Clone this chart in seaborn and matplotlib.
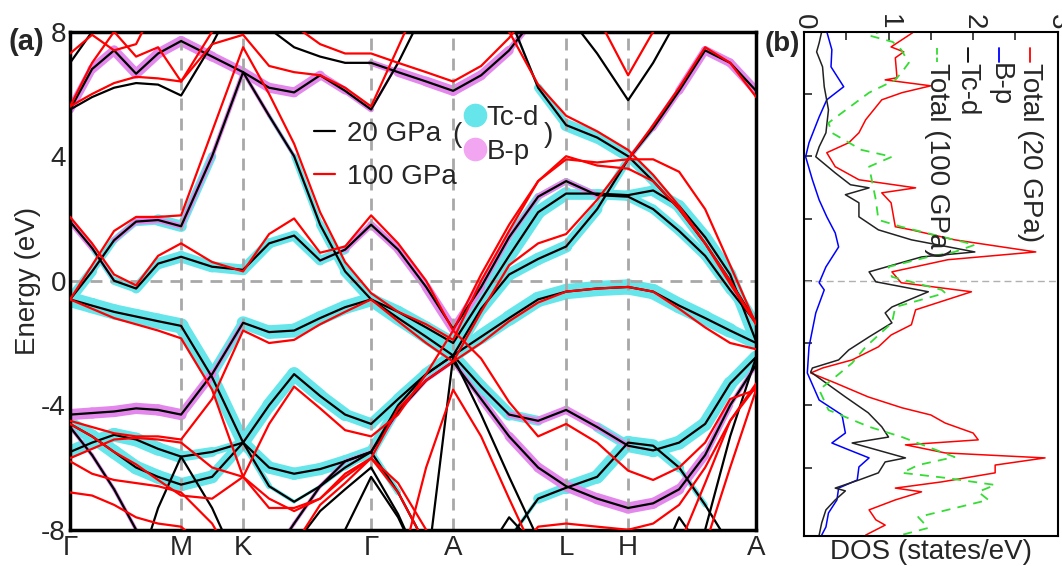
import numpy as np
import pandas as pd
import matplotlib
matplotlib.use("Agg")
import matplotlib.pyplot as plt
from matplotlib.collections import LineCollection
from matplotlib.lines import Line2D
import seaborn as sns

sns.set_style("white")
plt.rcParams["font.family"] = ["Liberation Sans", "DejaVu Sans"]

# --- k path (high symmetry points and the sampled k values) ---
sym_labels = ["Γ", "M", "K", "Γ", "A", "L", "H", "A"]
sym_pos = [0.0, 1.11, 1.73, 3.01, 3.83, 4.96, 5.58, 6.86]
kpath = [0.0, 0.22, 0.44, 0.66, 0.88, 1.11, 1.42, 1.73, 1.99, 2.24, 2.50, 2.75, 3.01,
         3.28, 3.56, 3.83, 4.11, 4.39, 4.68, 4.96, 5.27, 5.58, 5.83, 6.09, 6.35, 6.60, 6.86]

# --- bands at 20 GPa (eV) ---
b20_1 = [7.0, 8.0, 9.5, 9.5, 9.5, 9.5, 9.5, 9.5, 8.1, 7.5, 7.2, 7.0, 7.0, 6.7, 6.4, 6.1, 6.6, 7.4, 8.6, 9.5, 9.5, 9.5, 9.5, 9.5, 9.5, 9.5, 9.5]
b20_2 = [5.5, 6.8, 7.4, 6.65, 7.3, 7.7, 7.2, 6.7, 6.2, 6.05, 6.6, 6.1, 5.5, 7.0, 8.8, 9.5, 9.5, 8.5, 6.2, 5.0, 4.6, 4.0, 3.2, 2.3, 1.2, 0.0, -1.35]
b20_3 = [5.5, 5.9, 6.2, 6.35, 6.3, 5.95, 7.6, 9.5, 9.5, 9.5, 9.5, 9.5, 9.5, 9.5, 9.5, 9.5, 9.5, 9.5, 9.5, 8.6, 7.3, 5.8, 7.0, 8.5, 9.5, 9.5, 9.5]
b20_4 = [-0.6, 0.3, 1.3, 1.9, 1.95, 1.75, 4.0, 6.7, 5.3, 4.0, 1.8, 0.3, -0.6, -1.0, -1.5, -2.0, -0.6, 0.8, 2.2, 2.8, 2.8, 2.75, 2.9, 2.4, 1.4, 0.2, -1.95]
b20_5 = [1.9, 1.05, 0.0, -0.25, 0.55, 0.77, 0.45, 0.35, 1.2, 1.45, 0.65, 1.0, 1.8, 1.0, -0.2, -1.55, -0.2, 1.4, 2.7, 3.2, 2.75, 2.7, 2.3, 1.6, 0.8, -0.3, -1.35]
b20_6 = [-4.6, -5.0, -5.5, -6.0, -6.3, -6.55, -6.3, -5.2, -6.0, -6.2, -6.05, -5.8, -5.5, -4.0, -3.0, -2.4, -0.9, 0.2, 0.7, 1.1, 2.3, 3.9, 4.9, 6.1, 7.4, 7.0, 6.1]
b20_7 = [-0.6, -0.8, -1.0, -1.15, -1.3, -1.45, -3.1, -5.2, -4.0, -3.0, -3.7, -4.3, -4.6, -3.8, -3.0, -2.4, -3.4, -4.3, -4.5, -4.15, -4.7, -5.3, -5.45, -5.2, -4.6, -3.3, -2.45]
b20_8 = [-4.3, -4.25, -4.2, -4.1, -4.15, -4.3, -3.0, -1.35, -1.65, -1.6, -1.2, -0.85, -0.6, -1.2, -1.8, -2.4, -1.8, -1.2, -0.6, -0.35, -0.25, -0.2, -0.35, -0.8, -1.2, -1.6, -2.0]
b20_9 = [-5.5, -5.2, -4.95, -5.1, -5.4, -5.65, -5.5, -5.2, -6.6, -7.1, -6.6, -6.0, -5.5, -6.8, -8.5, -9.5, -9.5, -8.3, -7.0, -6.65, -6.3, -5.2, -5.3, -6.0, -7.2, -8.5, -9.5]
b20_10 = [-4.7, -5.6, -6.7, -8.0, -9.5, -9.5, -9.5, -9.5, -9.0, -7.8, -6.6, -5.8, -5.5, -4.2, -3.2, -2.6, -3.8, -5.0, -6.0, -6.6, -7.0, -7.3, -7.15, -6.7, -5.6, -4.0, -2.7]
b20_11 = [-9.5, -9.5, -9.5, -9.5, -7.3, -5.65, -7.3, -9.5, -9.5, -9.5, -9.5, -8.0, -6.3, -7.6, -9.5, -9.5, -9.0, -7.6, -8.6, -9.5, -9.5, -9.5, -9.5, -7.6, -8.8, -9.5, -9.5]
b20_12 = [-9.5, -9.5, -9.5, -9.5, -9.5, -9.5, -9.5, -9.5, -9.5, -8.5, -7.4, -6.7, -6.0, -7.5, -9.5, -2.45, -4.3, -6.3, -8.3, -9.5, -9.5, -9.5, -9.5, -9.5, -8.0, -5.0, -2.45]
bands_20 = [b20_1, b20_2, b20_3, b20_4, b20_5, b20_6, b20_7, b20_8, b20_9, b20_10, b20_11, b20_12]

# projected weights on the 20 GPa bands (0..1)
tcd_1 = [0] * 27
tcd_2 = [0, 0, 0, 0, 0, 0, 0, 0, 0, 0, 0, 0, 0, 0, 0, 0, 0, 0, 0.3, 0.8, 0.8, 0.7, 0.5, 0.6, 0.6, 0.6, 0.5]
tcd_3 = [0] * 27
tcd_4 = [0.8, 0.5, 0.4, 0.5, 0.7, 0.8, 0.3, 0, 0.2, 0.3, 0.5, 0.6, 0.8, 0.8, 0.8, 0.8, 0.8, 0.9, 0.9, 0.8, 0.6, 0.6, 0.7, 0.8, 0.8, 0.8, 0.8]
tcd_5 = [0, 0.2, 0.5, 0.6, 0.7, 0.8, 0.7, 0.7, 0.7, 0.6, 0.7, 0.5, 0, 0, 0.3, 0, 0.3, 0.5, 0.5, 0.3, 0.5, 0.6, 0.6, 0.6, 0.6, 0.6, 0.5]
tcd_6 = [0.9, 0.9, 0.9, 0.9, 0.9, 0.9, 0.8, 0.8, 0.8, 0.8, 0.8, 0.8, 0.8, 0.6, 0.6, 0.7, 0.8, 0.8, 0.8, 0.8, 0.6, 0.4, 0.2, 0, 0, 0, 0]
tcd_7 = [1.0, 1.0, 1.0, 1.0, 1.0, 1.0, 0.9, 0.8, 0.9, 0.9, 0.9, 0.8, 0.7, 0.7, 0.8, 0.8, 0.8, 0.8, 0.5, 0.3, 0.5, 0.8, 0.9, 0.9, 0.9, 0.9, 0.8]
tcd_8 = [0, 0, 0, 0, 0, 0, 0.5, 0.8, 0.9, 0.9, 0.9, 0.9, 0.9, 0.9, 0.9, 0.9, 0.9, 1.0, 1.0, 1.0, 1.0, 1.0, 1.0, 1.0, 1.0, 0.9, 0.8]
tcd_9 = [0.8, 0.9, 0.9, 0.9, 0.9, 0.8, 0.5, 0.5, 0.3, 0.2, 0.2, 0.3, 0.5, 0.3, 0, 0, 0, 0, 0.5, 0.8, 0.9, 0.9, 0.8, 0.5, 0.2, 0, 0]
tcd_10 = [0] * 27
tcd_11 = [0] * 27
tcd_12 = [0] * 27
tcd_weight = [tcd_1, tcd_2, tcd_3, tcd_4, tcd_5, tcd_6, tcd_7, tcd_8, tcd_9, tcd_10, tcd_11, tcd_12]

bp_1 = [0, 0, 0, 0, 0, 0, 0, 0, 0, 0, 0, 0, 0.3, 0.7, 0.8, 0.8, 0.8, 0.7, 0.3, 0, 0, 0, 0, 0, 0, 0, 0]
bp_2 = [0.6, 0.7, 0.8, 0.8, 0.8, 0.8, 0.8, 0.7, 0.8, 0.8, 0.7, 0.5, 0.4, 0, 0, 0, 0, 0, 0, 0.2, 0, 0, 0, 0, 0, 0, 0]
bp_3 = [0] * 27
bp_4 = [0, 0, 0.3, 0.5, 0.5, 0.4, 0.4, 0.3, 0.3, 0.2, 0, 0, 0, 0, 0, 0, 0, 0, 0, 0, 0, 0, 0, 0, 0, 0, 0]
bp_5 = [0.5, 0.4, 0, 0, 0, 0, 0, 0, 0, 0, 0, 0.4, 0.6, 0.6, 0.7, 0.8, 0.5, 0.3, 0.4, 0.6, 0.3, 0, 0, 0, 0, 0, 0.3]
bp_6 = [0, 0, 0, 0, 0, 0, 0, 0, 0, 0, 0, 0, 0, 0, 0, 0, 0, 0, 0, 0, 0, 0.2, 0.4, 0.6, 0.7, 0.7, 0.7]
bp_7 = [0, 0, 0, 0, 0, 0, 0, 0, 0, 0, 0, 0, 0, 0, 0, 0, 0, 0.4, 0.6, 0.7, 0.6, 0.3, 0, 0, 0, 0, 0]
bp_8 = [0.9, 0.9, 0.9, 0.9, 0.9, 0.9, 0.5, 0.2, 0, 0, 0, 0, 0, 0, 0, 0, 0, 0, 0, 0, 0, 0, 0, 0, 0, 0, 0]
bp_9 = [0] * 27
bp_10 = [0.3, 0.3, 0.3, 0.3, 0, 0, 0, 0, 0.3, 0.3, 0.3, 0.3, 0.3, 0.3, 0.3, 0.3, 0.5, 0.7, 0.8, 0.8, 0.9, 0.9, 0.9, 0.8, 0.6, 0.4, 0.3]
bp_11 = [0] * 27
bp_12 = [0] * 27
bp_weight = [bp_1, bp_2, bp_3, bp_4, bp_5, bp_6, bp_7, bp_8, bp_9, bp_10, bp_11, bp_12]

# --- bands at 100 GPa (eV) ---
b100_1 = [7.3, 7.9, 7.4, 7.6, 9.0, 9.5, 9.5, 9.5, 9.5, 8.2, 7.6, 7.3, 7.3, 7.0, 6.7, 6.4, 6.9, 7.8, 9.0, 9.5, 8.5, 6.6, 8.0, 9.5, 9.5, 9.5, 9.5]
b100_2 = [5.6, 7.0, 8.0, 7.2, 7.5, 6.4, 7.6, 7.9, 6.9, 6.7, 6.6, 6.2, 5.6, 7.5, 9.5, 9.5, 9.5, 8.0, 6.3, 5.3, 4.8, 4.2, 3.4, 2.4, 1.2, -0.1, -1.4]
b100_3 = [5.6, 6.0, 6.35, 6.55, 6.5, 6.4, 8.0, 9.5, 9.5, 9.5, 9.5, 9.5, 9.5, 9.5, 9.5, 9.5, 9.5, 9.5, 9.5, 9.5, 9.5, 9.5, 9.5, 9.5, 9.5, 9.5, 9.5]
b100_4 = [-0.6, 0.5, 1.6, 2.05, 2.05, 2.1, 4.8, 7.5, 6.0, 4.4, 2.2, 0.6, -0.4, -1.0, -1.4, -1.9, 0.0, 1.6, 3.2, 3.9, 3.8, 3.9, 3.9, 3.5, 2.3, 0.5, -1.4]
b100_5 = [2.05, 1.2, 0.2, -0.15, 0.8, 1.2, 0.6, 0.3, 1.5, 2.0, 0.9, 1.1, 2.1, 1.2, 0.0, -1.6, 0.2, 1.8, 3.2, 4.0, 3.7, 3.6, 3.2, 2.3, 1.2, 0.0, -1.4]
b100_6 = [-4.6, -5.0, -5.5, -5.9, -6.4, -6.9, -7.0, -6.3, -7.3, -7.3, -7.0, -6.2, -5.7, -4.1, -3.2, -2.6, -1.0, 0.5, 1.2, 1.5, 2.6, 3.9, 5.0, 6.2, 7.5, 7.0, 5.9]
b100_7 = [-0.6, -0.9, -1.2, -1.4, -1.6, -1.85, -3.5, -6.3, -4.6, -3.4, -4.1, -4.8, -5.0, -4.3, -3.0, -1.6, -2.5, -3.9, -5.0, -4.6, -5.2, -6.1, -6.4, -6.0, -5.2, -3.8, -3.5]
b100_8 = [-4.5, -4.7, -4.9, -5.0, -5.0, -5.1, -3.8, -1.6, -2.0, -1.9, -1.4, -1.0, -0.6, -1.3, -2.0, -2.6, -2.0, -1.3, -0.7, -0.35, -0.25, -0.2, -0.35, -0.9, -1.5, -2.0, -2.2]
b100_9 = [-5.7, -5.4, -5.1, -5.05, -5.1, -5.2, -6.0, -6.3, -7.0, -7.4, -7.0, -6.3, -5.7, -6.8, -8.5, -9.5, -9.5, -9.0, -7.9, -7.8, -7.9, -8.0, -7.8, -7.2, -6.0, -4.5, -3.3]
b100_10 = [-6.8, -6.9, -7.2, -7.6, -7.8, -7.9, -8.8, -9.5, -9.5, -8.5, -7.2, -6.5, -5.7, -6.5, -8.0, -9.5, -9.5, -9.5, -9.5, -9.5, -9.5, -9.5, -9.5, -8.5, -6.5, -4.5, -3.4]
b100_11 = [-5.8, -6.2, -6.4, -6.5, -6.6, -6.8, -7.8, -9.5, -9.5, -9.5, -9.5, -9.5, -9.5, -9.5, -9.5, -9.5, -9.5, -9.5, -9.5, -9.5, -9.5, -9.5, -9.5, -9.5, -9.5, -9.5, -9.5]
b100_12 = [-9.5, -9.5, -9.5, -9.5, -9.5, -9.5, -9.5, -9.5, -9.5, -9.5, -9.5, -9.5, -9.5, -9.5, -6.0, -3.5, -5.0, -7.0, -9.0, -9.5, -9.5, -9.5, -9.5, -9.5, -8.5, -6.0, -3.5]
bands_100 = [b100_1, b100_2, b100_3, b100_4, b100_5, b100_6, b100_7, b100_8, b100_9, b100_10, b100_11, b100_12]

# --- DOS curves (energy in eV, DOS in states/eV) ---
e_tot20 = [8.04, 7.52, 7.36, 7.17, 6.53, 6.46, 6.27, 6.05, 5.82, 5.18, 4.76, 4.44, 4.12, 3.67, 3.25, 2.99, 2.83, 2.51, 1.74, 1.64, 1.32, 0.93, 0.68, 0.29, -0.06, -0.35, -0.93, -1.41, -1.74, -2.12, -2.54, -2.80, -2.96, -3.28, -3.73, -4.08, -4.31, -4.57, -4.89, -5.11, -5.27, -5.53, -5.69, -5.92, -6.17, -6.46, -6.66, -6.78, -7.04, -7.36, -7.68, -7.85, -8.17]
d_tot20 = [1.32, 1.03, 1.18, 1.08, 1.10, 0.96, 1.50, 1.16, 0.92, 0.73, 0.65, 0.53, 0.27, 0.37, 0.65, 1.32, 0.92, 1.03, 1.08, 1.27, 1.78, 2.74, 1.70, 1.04, 1.15, 1.98, 1.32, 1.27, 1.03, 0.88, 0.57, 0.22, 0.08, 0.37, 0.76, 1.16, 1.50, 1.67, 2.00, 2.06, 1.20, 1.67, 2.85, 2.26, 2.26, 1.63, 1.08, 1.39, 1.08, 0.77, 0.85, 0.96, 0.73]
e_bp = [8.01, 7.43, 6.88, 6.24, 5.82, 5.27, 4.44, 3.99, 3.25, 2.60, 2.06, 1.54, 1.09, 0.45, -0.06, -0.29, -1.03, -2.12, -2.96, -3.83, -4.31, -4.89, -5.21, -5.43, -5.69, -5.98, -6.40, -6.66, -7.04, -7.46, -7.91, -8.17]
d_bp = [0.27, 0.33, 0.32, 0.47, 0.27, 0.18, 0.06, 0.02, 0.10, 0.18, 0.27, 0.37, 0.41, 0.26, 0.18, 0.24, 0.14, 0.06, 0.04, 0.18, 0.45, 0.49, 0.33, 0.53, 0.77, 0.65, 0.63, 0.41, 0.39, 0.29, 0.26, 0.21]
e_tcd = [8.01, 7.65, 7.36, 6.88, 6.24, 5.50, 4.76, 4.31, 3.99, 3.47, 3.09, 2.99, 2.77, 2.51, 2.06, 1.64, 1.32, 0.93, 0.77, 0.29, -0.03, -0.35, -0.84, -1.03, -1.35, -1.80, -2.22, -2.54, -2.80, -2.93, -3.28, -3.73, -4.24, -4.69, -5.02, -5.21, -5.69, -5.82, -6.17, -6.40, -6.66, -6.75, -7.04, -7.36, -7.78, -8.17]
d_tcd = [0.21, 0.18, 0.15, 0.22, 0.24, 0.29, 0.26, 0.18, 0.14, 0.37, 0.55, 0.77, 0.49, 0.65, 0.65, 0.88, 1.27, 2.02, 1.39, 0.77, 0.85, 1.47, 1.04, 0.96, 1.04, 0.77, 0.53, 0.41, 0.10, 0.08, 0.26, 0.49, 0.76, 0.92, 1.00, 0.57, 1.20, 0.96, 0.88, 0.65, 0.37, 0.49, 0.37, 0.26, 0.21, 0.18]
e_tot100 = [8.07, 7.88, 7.68, 7.43, 7.01, 6.72, 6.46, 6.05, 5.08, 4.76, 4.21, 3.99, 3.67, 2.60, 1.96, 1.74, 1.16, 0.93, 0.77, 0.45, 0.13, -0.29, -0.39, -0.84, -1.35, -2.12, -2.64, -3.18, -3.50, -4.15, -4.69, -5.02, -5.66, -5.92, -6.17, -6.33, -6.56, -6.78, -7.04, -7.59, -7.94, -8.17]
d_tot100 = [0.95, 0.78, 1.05, 1.15, 1.24, 1.16, 1.08, 0.77, 0.29, 0.33, 0.68, 1.04, 0.77, 0.85, 0.88, 1.15, 2.02, 1.78, 1.47, 1.00, 1.04, 1.63, 1.67, 1.08, 1.04, 0.73, 0.57, 0.33, 0.18, 0.29, 0.77, 1.16, 1.78, 1.35, 1.16, 1.67, 2.26, 2.06, 2.18, 1.35, 1.47, 1.15]

cyan = "#66e6ea"
pink = "#e487ec"


def long_form(bands):
    rows = []
    for i, b in enumerate(bands):
        for k, e in zip(kpath, b):
            rows.append((i, k, e))
    return pd.DataFrame(rows, columns=["band", "k", "E"])


def fat_band(ax, band, weight, color, maxw):
    segs, widths = [], []
    for j in range(len(kpath) - 1):
        w = 0.5 * (weight[j] + weight[j + 1])
        if w > 0:
            segs.append([(kpath[j], band[j]), (kpath[j + 1], band[j + 1])])
            widths.append(w * maxw)
    if segs:
        ax.add_collection(LineCollection(segs, linewidths=widths, colors=color,
                                         capstyle="round", joinstyle="round", zorder=1))


fig = plt.figure(figsize=(10.62, 5.66), dpi=100)
ax = fig.add_axes([0.066, 0.064, 0.646, 0.880])
ax2 = fig.add_axes([0.757, 0.053, 0.239, 0.8905])

# ---------------- (a) band structure ----------------
for b, w in zip(bands_20, tcd_weight):
    fat_band(ax, b, w, cyan, 11)
for b, w in zip(bands_20, bp_weight):
    fat_band(ax, b, w, pink, 9)

for p in sym_pos[1:-1]:
    ax.axvline(p, color="#a8a8a8", lw=2, dashes=(4.3, 2.9), zorder=1.5)
ax.axhline(0, color="#a8a8a8", lw=2, dashes=(4.3, 2.9), zorder=1.5)

sns.lineplot(data=long_form(bands_20), x="k", y="E", units="band", estimator=None,
             sort=False, color="black", lw=1.6, ax=ax, zorder=3)
sns.lineplot(data=long_form(bands_100), x="k", y="E", units="band", estimator=None,
             sort=False, color="red", lw=1.6, ax=ax, zorder=3.2)

ax.set_xlim(sym_pos[0], sym_pos[-1])
ax.set_ylim(-8, 8)
ax.set_xticks(sym_pos)
ax.set_xticklabels(sym_labels, fontsize=20)
ax.set_yticks([-8, -4, 0, 4, 8])
ax.set_yticklabels(["-8", "-4", "0", "4", "8"], fontsize=20)
ax.set_yticks([-6, -2, 2, 6], minor=True)
ax.tick_params(axis="y", which="major", direction="in", length=9, width=2, pad=3)
ax.tick_params(axis="y", which="minor", direction="in", length=5, width=2)
ax.tick_params(axis="x", length=0, pad=4)
ax.set_xlabel("")
ax.set_ylabel("Energy (eV)", fontsize=20, labelpad=0)
for s in ax.spines.values():
    s.set_linewidth(2.5)
    s.set_color("black")

leg1 = ax.legend(handles=[Line2D([], [], color="black", lw=1.6),
                          Line2D([], [], color="red", lw=1.6)],
                 labels=["20 GPa", "100 GPa"], loc="upper left",
                 bbox_to_anchor=(0.319, 0.871), frameon=False, fontsize=20,
                 handlelength=0.75, handletextpad=0.45, labelspacing=0.62)
ax.add_artist(leg1)
ax.legend(handles=[Line2D([], [], ls="", marker="o", ms=16, color=cyan),
                   Line2D([], [], ls="", marker="o", ms=16, color="#f2a6f2")],
          labels=["Tc-d", "B-p"], loc="upper left", bbox_to_anchor=(0.5415, 0.904),
          frameon=False, fontsize=20, handlelength=0.6, handletextpad=0.13,
          labelspacing=0.3)
ax.text(0.557, 0.793, "(", transform=ax.transAxes, fontsize=20, va="center")
ax.text(0.690, 0.793, ")", transform=ax.transAxes, fontsize=20, va="center")

# ---------------- (b) DOS ----------------
ax2.axhline(0, color="#b0b0b0", lw=1, dashes=(5, 3), zorder=1)
sns.lineplot(x=d_tot20, y=e_tot20, orient="y", sort=False, color="red", lw=1.1, ax=ax2)
sns.lineplot(x=d_bp, y=e_bp, orient="y", sort=False, color="blue", lw=1.1, ax=ax2)
sns.lineplot(x=d_tcd, y=e_tcd, orient="y", sort=False, color="#222222", lw=1.1, ax=ax2)
ax2.plot(d_tot100, e_tot100, color="#33dd33", lw=1.3, dashes=(5, 4))

ax2.set_xlim(0, 3)
ax2.set_ylim(-8.2, 8)
ax2.set_yticks([-6, -4, -2, 0, 2, 4, 6])
ax2.set_yticklabels([])
ax2.tick_params(axis="y", direction="in", length=6, width=1.2, left=True)
ax2.xaxis.tick_top()
ax2.set_xticks([0, 1, 2, 3])
ax2.set_xticks([0.5, 1.5, 2.5], minor=True)
ax2.set_xticklabels(["0", "1", "2", "3"], fontsize=20, rotation=-90)
ax2.tick_params(axis="x", which="both", direction="in", length=6, width=1.2, pad=2)
ax2.set_xlabel("DOS (states/eV)", fontsize=20, labelpad=2)
ax2.xaxis.set_label_position("bottom")
for s in ax2.spines.values():
    s.set_linewidth(1.5)
    s.set_color("black")

# rotated legend of panel (b)
leg_x = [0.89, 0.77, 0.645, 0.525]
leg_lab = ["Total (20 GPa)", "B-p", "Tc-d", "Total (100 GPa)"]
leg_col = ["red", "blue", "black", "#33dd33"]
for x, lab, c in zip(leg_x, leg_lab, leg_col):
    ax2.plot([x, x], [0.968, 0.94], transform=ax2.transAxes, color=c, lw=1.3,
             ls="--" if c == "#33dd33" else "-")
    ax2.text(x, 0.938, lab, transform=ax2.transAxes, rotation=-90, fontsize=20,
             ha="center", va="top")

fig.text(0.008, 0.926, "(a)", fontsize=21, fontweight="bold", va="center")
fig.text(0.720, 0.922, "(b)", fontsize=20, fontweight="bold", va="center")

fig.savefig("out.png", dpi=100)
